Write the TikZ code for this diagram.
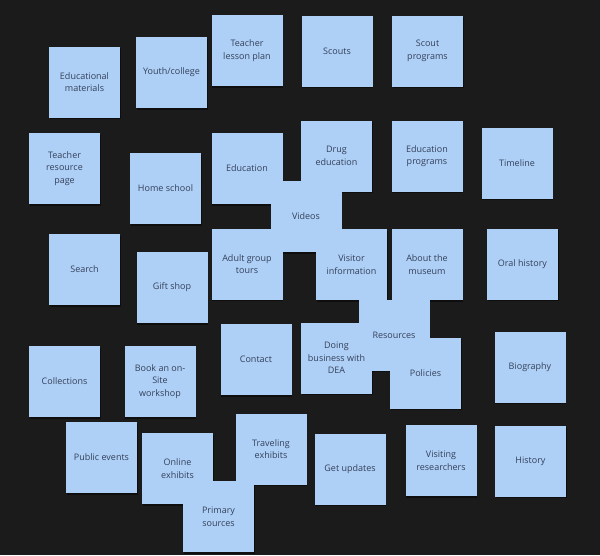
\documentclass[tikz,border=0pt]{standalone}
\usepackage{fontspec}
\setmainfont{Open Sans}
\definecolor{bgc}{HTML}{1B1B1B}
\definecolor{notec}{HTML}{AFD0F6}
\definecolor{txtc}{HTML}{33405A}
\tikzset{
  notebox/.style={draw=none, fill=notec, minimum width=71pt, minimum height=71pt, inner sep=0pt},
  noteshadow/.style={fill=black, opacity=0.45},
  notetext/.style={align=center, text=txtc, inner sep=0pt, font=\fontsize{9}{12.5}\selectfont}
}
\def\notelist{
edmat/84.5/82/{Educational\\materials},
youth/171.5/72.5/{Youth/college},
tlp/247/50.5/{Teacher\\lesson plan},
scouts/337/51/{Scouts},
scoutprog/427.5/51/{Scout\\programs},
trp/64.5/168.5/{Teacher\\resource\\page},
home/165.5/188.5/{Home school},
educ/247/168.5/{Education},
drug/336.5/156/{Drug\\education},
edprog/427/156/{Education\\programs},
timeline/517/163/{Timeline},
search/84.5/269.5/{Search},
gift/172/287.5/{Gift shop},
adult/247/264/{Adult group\\tours},
visitor/351.5/264.5/{Visitor\\information},
about/427/264.5/{About the\\museum},
oral/522.5/264/{Oral history},
videos/306/216.5/{Videos},
collections/64.5/381.5/{Collections},
book/160/381.5/{Book an on-\\Site\\workshop},
contact/256/359.5/{Contact},
resources/394/335/{Resources},
doing/336.5/358/{Doing\\business with\\DEA},
policies/425.5/373/{Policies},
biography/530/367/{Biography},
public/101.5/457.5/{Public events},
online/177.5/468.5/{Online\\exhibits},
traveling/271/449/{Traveling\\exhibits},
getupd/350/469/{Get updates},
visiting/441/460.5/{Visiting\\researchers},
history/530.5/461/{History},
primary/218.5/516.5/{Primary\\sources}}
\begin{document}
\begin{tikzpicture}[x=1pt,y=-1pt]
\fill[bgc] (0,0) rectangle (600,555);
\useasboundingbox (0,0) rectangle (600,555);
\foreach \n/\x/\y/\t in \notelist {
  \fill[noteshadow] (\x-35.5+0.5,\y-35.5+1.5) rectangle ++(71,71);
}
\foreach \n/\x/\y/\t in \notelist {
  \node[notebox] (\n) at (\x,\y) {};
}
\foreach \n/\x/\y/\t in \notelist {
  \node[notetext] (\n-t) at (\n) {\t};
}
\end{tikzpicture}
\end{document}
